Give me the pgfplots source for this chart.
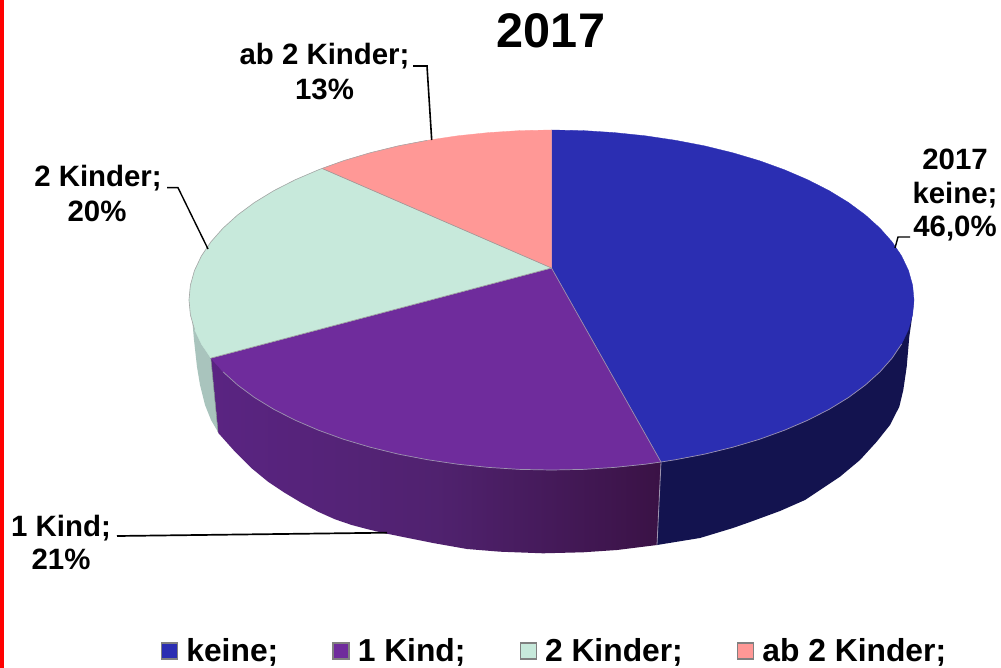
\documentclass[border=0pt]{standalone}
\usepackage{fontspec}
\setmainfont{Liberation Sans}
\usepackage{pgfplots}
\pgfplotsset{compat=1.18}

\definecolor{cblue}{HTML}{2B2EB2}
\definecolor{cpurple}{HTML}{6F2C9C}
\definecolor{cgreen}{HTML}{C7E9DB}
\definecolor{cpink}{HTML}{FF9896}
\definecolor{sblue}{HTML}{13134F}
\definecolor{sgreen}{HTML}{A9C4BD}
\definecolor{spa}{HTML}{5A2482}
\definecolor{spb}{HTML}{50226F}
\definecolor{spc}{HTML}{3A1245}
\definecolor{rim}{HTML}{9C93AE}

\pgfdeclarehorizontalshading{purpleside}{100bp}{color(0bp)=(spa);color(25bp)=(spa);color(50bp)=(spb);color(75bp)=(spc);color(100bp)=(spc)}

\begin{document}
\begin{tikzpicture}[lbl/.style={anchor=base, inner sep=0pt, font=\fontsize{29.4}{34}\selectfont\bfseries}]
\begin{axis}[
  width=1001pt, height=668pt, scale only axis,
  xmin=0, xmax=1001, ymin=0, ymax=668, y dir=reverse,
  enlargelimits=false, hide axis,
  legend columns=4,
  legend image code/.code={\path[#1, draw=gray, line width=1.5pt] (0pt,-8pt) rectangle (16pt,8pt);},
  legend style={at={(0.1605,0.0254)}, anchor=west, draw=none, fill=none, inner sep=0pt,
    font=\fontsize{31.8}{36}\selectfont\bfseries,
    /tikz/every odd column/.append style={column sep=6pt},
    /tikz/every even column/.append style={column sep=52pt}},
]
% page and red edge
\addplot[forget plot, fill=white, draw=none] coordinates {(0,0) (1001,0) (1001,668) (0,668)} -- cycle;
\addplot[forget plot, fill=red, draw=none] coordinates {(0,0) (4,0) (4,668) (0,668)} -- cycle;

% sides
\addplot[forget plot, fill=sgreen, draw=none] coordinates {
  (218,432) (211,420) (205,405) (200,385) (197,367) (194,340) (192,317) (189,300) (210.9,358.1)} -- cycle;
\addplot[forget plot, shading=purpleside, draw=none] coordinates {
  (661,462) (657,545) (617,550) (583,552.3) (543,553.3) (500,551.7) (467,549) (433,543) (401.7,536.7)
  (385,533.3) (368,529.3) (351.7,525) (335,519.3) (318,511.7) (301.7,503) (285,493) (268,481.7)
  (251.7,468.3) (235,451.7) (218.3,433) (210.9,358.1)} -- cycle;
\addplot[forget plot, fill=sblue, draw=none] coordinates {
  (914,300) (911.7,320) (909.3,336.7) (906.7,366.7) (903.3,390) (899.3,406.7) (890,425) (876.7,441.7)
  (860,460) (840,476.7) (820,490) (805,500) (780,511) (750,522) (733,528) (700,538) (657,545) (661,462)} -- cycle;
\addplot[forget plot, draw=rim, line width=0.8pt] coordinates {(661,462) (657,545)};
\addplot[forget plot, draw=sgreen!70!black, line width=0.5pt] coordinates {(210.9,358.1) (218,432)};

% top faces
\addplot[fill=cblue, draw=cblue, line width=0.3pt] coordinates {
  (551.5,268) (551.5,130) (583.1,130.6) (614.4,132.6) (645.3,135.8) (675.5,140.3) (704.7,145.9)
  (732.8,152.8) (759.4,160.7) (784.5,169.8) (807.8,179.8) (829.2,190.7) (848.5,202.5) (865.4,215)
  (880,228.2) (892.1,241.9) (901.6,256) (908.5,270.5) (912.6,285.2) (914,300) (912.6,314.8)
  (908.5,329.5) (901.6,344) (892.1,358.1) (880,371.8) (865.4,385) (848.5,397.5) (829.2,409.3)
  (807.8,420.2) (784.5,430.2) (759.4,439.3) (732.8,447.2) (704.7,454.1) (675.5,459.7) (661,462)} -- cycle;
\addplot[fill=cpurple, draw=cpurple, line width=0.3pt] coordinates {
  (551.5,268) (661,462) (645.3,464.2) (614.4,467.4) (583.1,469.4) (551.5,470) (519.9,469.4)
  (488.6,467.4) (457.7,464.2) (427.5,459.7) (398.3,454.1) (370.2,447.2) (343.6,439.3) (318.5,430.2)
  (295.2,420.2) (273.8,409.3) (254.5,397.5) (237.6,385) (223,371.8) (210.9,358.1)} -- cycle;
\addplot[fill=cgreen, draw=cgreen, line width=0.3pt] coordinates {
  (551.5,268) (210.9,358.1) (201.4,344) (194.5,329.5) (190.4,314.8) (189,300) (190.4,285.2)
  (194.5,270.5) (201.4,256) (210.9,241.9) (223,228.2) (237.6,215) (254.5,202.5) (273.8,190.7)
  (295.2,179.8) (318.5,169.8) (322,168.4)} -- cycle;
\addplot[fill=cpink, draw=cpink, line width=0.3pt] coordinates {
  (551.5,268) (322,168.4) (343.6,160.7) (370.2,152.8) (398.3,145.9) (427.5,140.3) (457.7,135.8)
  (488.6,132.6) (519.9,130.6) (551.5,130)} -- cycle;
\legend{keine;, 1 Kind;, 2 Kinder;, ab 2 Kinder;}

% light rims between the faces
\addplot[forget plot, draw=rim, line width=0.7pt] coordinates {
  (901.6,344) (892.1,358.1) (880,371.8) (865.4,385) (848.5,397.5) (829.2,409.3)
  (807.8,420.2) (784.5,430.2) (759.4,439.3) (732.8,447.2) (704.7,454.1) (675.5,459.7) (661,462)
  (645.3,464.2) (614.4,467.4) (583.1,469.4) (551.5,470) (519.9,469.4)
  (488.6,467.4) (457.7,464.2) (427.5,459.7) (398.3,454.1) (370.2,447.2) (343.6,439.3) (318.5,430.2)
  (295.2,420.2) (273.8,409.3) (254.5,397.5) (237.6,385) (223,371.8)};
\addplot[forget plot, draw=rim, line width=0.7pt] coordinates {(661,462) (551.5,268)};
\addplot[forget plot, draw=gray!80, line width=0.6pt] coordinates {(210.9,358.1) (551.5,268) (322,168.4)};
\addplot[forget plot, draw=gray!70, line width=0.6pt] coordinates {
  (194.5,329.5) (190.4,314.8) (189,300) (190.4,285.2) (194.5,270.5) (201.4,256) (210.9,241.9)
  (223,228.2) (237.6,215) (254.5,202.5) (273.8,190.7) (295.2,179.8) (318.5,169.8) (343.6,160.7)
  (370.2,152.8) (398.3,145.9) (427.5,140.3)};

% leader lines
\addplot[forget plot, black, line width=1.6pt] coordinates {(413,66) (427,66) (431.7,140)};
\addplot[forget plot, black, line width=1.4pt] coordinates {(167,187.7) (178,187.7) (208,249)};
\addplot[forget plot, black, line width=1.7pt] coordinates {(117,536) (387,532.7)};
\addplot[forget plot, black, line width=1.4pt] coordinates {(910,237) (898,237) (895,248)};

% texts
\node[anchor=base, inner sep=0pt, font=\fontsize{48.6}{50}\selectfont\bfseries] at (axis cs:551,48) {2017};
\node[lbl] at (axis cs:324.5,65) {ab 2 Kinder;};
\node[lbl] at (axis cs:324.5,99.5) {13\%};
\node[lbl] at (axis cs:98,187) {2 Kinder;};
\node[lbl] at (axis cs:97,222) {20\%};
\node[lbl] at (axis cs:61,536) {1 Kind;};
\node[lbl] at (axis cs:61,569) {21\%};
\node[lbl] at (axis cs:955,170) {2017};
\node[lbl] at (axis cs:955,204) {keine;};
\node[lbl] at (axis cs:955,237) {46,0\%};
\end{axis}
\end{tikzpicture}
\end{document}
